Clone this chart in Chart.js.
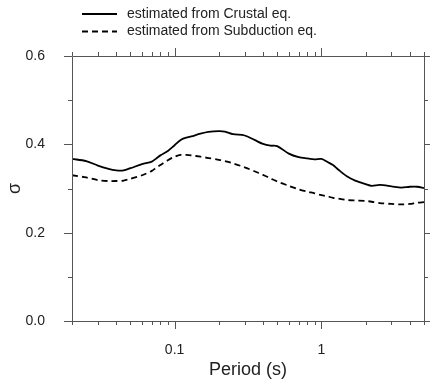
<!DOCTYPE html>
<html>
<head>
<meta charset="utf-8">
<script src="https://cdn.jsdelivr.net/npm/chart.js@4.4.1/dist/chart.umd.min.js"></script>
<style>
  html, body { margin: 0; padding: 0; background: #fff; }
  canvas { display: block; }
</style>
</head>
<body>
<canvas id="c" width="430" height="385"></canvas>
<script>
// ---- data ----
const periods = [0.02, 0.025, 0.03, 0.035, 0.04, 0.045, 0.05, 0.06, 0.07, 0.075, 0.08, 0.09,
  0.1, 0.11, 0.12, 0.13, 0.15, 0.17, 0.2, 0.22, 0.25, 0.3, 0.35, 0.4, 0.45, 0.5, 0.6, 0.7,
  0.8, 0.9, 1.0, 1.1, 1.2, 1.3, 1.5, 1.7, 2.0, 2.2, 2.5, 3.0, 3.5, 4.0, 4.5, 5.0];
const crustalSigma = [0.367, 0.362, 0.352, 0.345, 0.341, 0.341, 0.346, 0.355, 0.361, 0.368, 0.375, 0.385,
  0.398, 0.410, 0.415, 0.418, 0.424, 0.428, 0.430, 0.429, 0.423, 0.420, 0.410, 0.401, 0.397, 0.396, 0.379, 0.371,
  0.368, 0.366, 0.367, 0.360, 0.353, 0.343, 0.327, 0.318, 0.310, 0.306, 0.308, 0.305, 0.302, 0.304, 0.304, 0.301];
const subductionSigma = [0.330, 0.325, 0.319, 0.317, 0.317, 0.318, 0.322, 0.330, 0.340, 0.347, 0.353, 0.364,
  0.372, 0.376, 0.376, 0.375, 0.372, 0.369, 0.365, 0.362, 0.357, 0.348, 0.339, 0.331, 0.323, 0.316, 0.306, 0.298,
  0.293, 0.289, 0.285, 0.282, 0.279, 0.277, 0.274, 0.273, 0.272, 0.270, 0.267, 0.265, 0.264, 0.265, 0.268, 0.269];
const seriesNames = ['estimated from Crustal eq.', 'estimated from Subduction eq.'];
const xTickValues = [0.02, 0.03, 0.04, 0.05, 0.06, 0.07, 0.08, 0.09, 0.1, 0.2, 0.3, 0.4, 0.5, 0.6, 0.7, 0.8, 0.9, 1, 2, 3, 4, 5];
const xTickLabels = { 0.1: '0.1', 1: '1' };
const yTickValues = [0, 0.1, 0.2, 0.3, 0.4, 0.5, 0.6];
const yTickLabels = { 0: '0.0', 0.2: '0.2', 0.4: '0.4', 0.6: '0.6' };
const xAxisTitle = 'Period (s)';
const yAxisTitle = 'σ';

const FONT = '"Liberation Sans", Arial, Helvetica, sans-serif';
const AXIS_COLOR = '#555';
const TEXT_COLOR = '#222';

const framePlugin = {
  id: 'frame',
  afterDraw(chart) {
    const { ctx, chartArea: a, scales: { x, y } } = chart;
    ctx.save();
    ctx.strokeStyle = AXIS_COLOR;
    ctx.lineWidth = 1;
    ctx.beginPath();
    ctx.rect(Math.round(a.left) + 0.5, Math.round(a.top) + 0.5, Math.round(a.right - a.left), Math.round(a.bottom - a.top));
    ctx.stroke();
    ctx.beginPath();
    xTickValues.forEach(v => {
      const px = Math.round(x.getPixelForValue(v)) + 0.5;
      const len = (v in xTickLabels) ? 8 : 4;
      ctx.moveTo(px, a.bottom); ctx.lineTo(px, a.bottom + len);
      ctx.moveTo(px, a.top); ctx.lineTo(px, a.top - len);
    });
    yTickValues.forEach(v => {
      const py = Math.round(y.getPixelForValue(v)) + 0.5;
      const len = (v in yTickLabels) ? 8 : 4;
      ctx.moveTo(a.left, py); ctx.lineTo(a.left - len, py);
      ctx.moveTo(a.right, py); ctx.lineTo(a.right + len, py);
    });
    ctx.stroke();

    // legend
    const ds = chart.data.datasets;
    ctx.font = '14px ' + FONT;
    ctx.textBaseline = 'middle';
    ctx.textAlign = 'left';
    const rows = [14, 31.5];
    ds.forEach((d, i) => {
      ctx.strokeStyle = d.borderColor;
      ctx.lineWidth = d.borderWidth;
      ctx.setLineDash(d.borderDash || []);
      ctx.beginPath();
      ctx.moveTo(82, rows[i]); ctx.lineTo(117, rows[i]);
      ctx.stroke();
      ctx.setLineDash([]);
      ctx.fillStyle = TEXT_COLOR;
      ctx.fillText(d.label, 127, rows[i]);
    });
    ctx.restore();
  }
};

new Chart(document.getElementById('c'), {
  type: 'line',
  data: {
    datasets: [
      {
        label: seriesNames[0],
        data: periods.map((p, i) => ({ x: p, y: crustalSigma[i] })),
        borderColor: '#000', borderWidth: 1.8, pointRadius: 0, tension: 0.3, fill: false
      },
      {
        label: seriesNames[1],
        data: periods.map((p, i) => ({ x: p, y: subductionSigma[i] })),
        borderColor: '#000', borderWidth: 1.8, borderDash: [6, 4], pointRadius: 0, tension: 0.3, fill: false
      }
    ]
  },
  options: {
    responsive: false,
    animation: false,
    devicePixelRatio: 1,
    layout: { padding: { top: 56, right: 6, left: 0, bottom: 0 } },
    plugins: { legend: { display: false }, tooltip: { enabled: false } },
    scales: {
      x: {
        type: 'logarithmic',
        min: 0.02, max: 5,
        grid: { display: false },
        border: { display: false },
        afterBuildTicks(s) { s.ticks = xTickValues.map(v => ({ value: v })); },
        afterFit(s) { s.height = 64; s.paddingLeft = 0; s.paddingRight = 0; },
        ticks: {
          autoSkip: false, maxRotation: 0, padding: 13,
          color: TEXT_COLOR, font: { family: FONT, size: 14 },
          callback: v => xTickLabels[v] || ''
        },
        title: { display: true, text: xAxisTitle, color: TEXT_COLOR, font: { family: FONT, size: 18 }, padding: { top: 0, bottom: 4 } }
      },
      y: {
        min: 0, max: 0.6,
        grid: { display: false },
        border: { display: false },
        afterBuildTicks(s) { s.ticks = yTickValues.map(v => ({ value: v })); },
        afterFit(s) { s.width = 72; s.paddingTop = 0; s.paddingBottom = 0; },
        ticks: {
          autoSkip: false, padding: 19,
          color: TEXT_COLOR, font: { family: FONT, size: 14 },
          callback: v => yTickLabels[Math.round(v * 10) / 10] || ''
        },
        title: { display: true, text: yAxisTitle, color: TEXT_COLOR, font: { family: FONT, size: 18 }, padding: { top: 4, bottom: 0 } }
      }
    }
  },
  plugins: [framePlugin]
});
</script>
</body>
</html>
